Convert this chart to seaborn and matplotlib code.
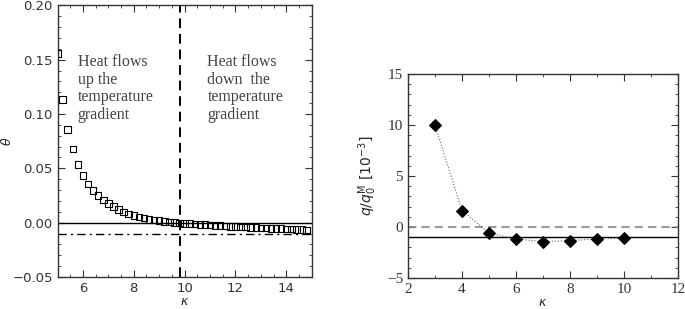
import numpy as np
import pandas as pd
import matplotlib
matplotlib.use("Agg")
import matplotlib.pyplot as plt
import seaborn as sns
from matplotlib.ticker import MultipleLocator

# ---- data: left panel ----
kappa_left = [5.0, 5.2, 5.4, 5.6, 5.8, 6.0, 6.2, 6.4, 6.6, 6.8,
              7.0, 7.2, 7.4, 7.6, 7.8, 8.0, 8.2, 8.4, 8.6, 8.8,
              9.0, 9.2, 9.4, 9.6, 9.8, 10.0, 10.2, 10.4, 10.6, 10.8,
              11.0, 11.2, 11.4, 11.6, 11.8, 12.0, 12.2, 12.4, 12.6, 12.8,
              13.0, 13.2, 13.4, 13.6, 13.8, 14.0, 14.2, 14.4, 14.6, 14.8]
theta = [0.1556, 0.1135, 0.0859, 0.0676, 0.0535, 0.0435, 0.0354, 0.0294, 0.0249, 0.0210,
         0.0177, 0.0147, 0.0123, 0.0099, 0.0081, 0.0066, 0.0054, 0.0042, 0.0030, 0.0024,
         0.0018, 0.0012, 0.0006, 0.0000, -0.0003, -0.0006, -0.0009, -0.0012, -0.0016, -0.0019,
         -0.0022, -0.0025, -0.0028, -0.0031, -0.0034, -0.0037, -0.0039, -0.0042, -0.0044, -0.0046,
         -0.0048, -0.0050, -0.0052, -0.0054, -0.0056, -0.0058, -0.0060, -0.0062, -0.0064, -0.0066]
kappa_crit = 9.83
theta_asym = -0.01
left_text_a = "Heat flows\nup the\ntemperature\ngradient"
left_text_b = "Heat flows\ndown  the\ntemperature\ngradient"

# ---- data: right panel ----
kappa_right = [3, 4, 5, 6, 7, 8, 9, 10]
q_ratio = [10.0, 1.62, -0.58, -1.17, -1.43, -1.33, -1.17, -1.07]
q_asym = -1.0

sns.set_style("ticks")
plt.rcParams['font.family'] = ['DejaVu Sans']

fig = plt.figure(figsize=(6.85, 3.09), dpi=100)
ax1 = fig.add_axes([0.084, 0.1036, 0.371, 0.879])
ax2 = fig.add_axes([0.5956, 0.1003, 0.394, 0.660])

dfl = pd.DataFrame({"kappa": kappa_left, "theta": theta})
sns.scatterplot(data=dfl, x="kappa", y="theta", ax=ax1, marker="s", s=22,
                facecolor="none", edgecolor="black", linewidth=0.8, zorder=3)
ax1.axhline(0.0, color="black", lw=1.0)
ax1.axhline(theta_asym, color="black", lw=1.0, ls=(0, (6, 3, 1.5, 3)))
ax1.axvline(kappa_crit, color="black", lw=1.4, ls=(0, (5, 3)))
ax1.set_xlim(5, 15)
ax1.set_ylim(-0.05, 0.20)
ax1.xaxis.set_major_locator(MultipleLocator(2))
ax1.xaxis.set_minor_locator(MultipleLocator(0.5))
ax1.yaxis.set_major_locator(MultipleLocator(0.05))
ax1.yaxis.set_minor_locator(MultipleLocator(0.01))
ax1.set_yticks([-0.05, 0.0, 0.05, 0.10, 0.15, 0.20])
ax1.set_yticklabels(["\u22120.05", "0.00", "0.05", "0.10", "0.15", "0.20"])
ax1.set_xlabel(r"$\kappa$", fontsize=9, labelpad=0)
ax1.set_ylabel(r"$\theta$", fontsize=9)
ax1.yaxis.set_label_coords(-0.172, 0.5)
ax1.text(5.8, 0.155, left_text_a, fontsize=11.5, family="Liberation Serif",
         va="top", ha="left", color="#444444", linespacing=1.12)
ax1.text(10.9, 0.155, left_text_b, fontsize=11.5, family="Liberation Serif",
         va="top", ha="left", color="#444444", linespacing=1.12)

dfr = pd.DataFrame({"kappa": kappa_right, "q": q_ratio})
ax2.axhline(0.0, color="#888888", lw=1.2, ls=(0, (5, 3)))
ax2.axhline(q_asym, color="black", lw=1.0)
sns.lineplot(data=dfr, x="kappa", y="q", ax=ax2, color="#666666", lw=0.8,
             ls=":", marker="D", markersize=6, markerfacecolor="black",
             markeredgecolor="black", zorder=3)
ax2.set_xlim(2, 12)
ax2.set_ylim(-5, 15)
ax2.xaxis.set_major_locator(MultipleLocator(2))
ax2.xaxis.set_minor_locator(MultipleLocator(1))
ax2.yaxis.set_major_locator(MultipleLocator(5))
ax2.yaxis.set_minor_locator(MultipleLocator(1))
ax2.set_yticks([-5, 0, 5, 10, 15])
ax2.set_yticklabels(["\u22125", "0", "5", "10", "15"])
ax2.set_xlabel(r"$\kappa$", fontsize=9, labelpad=0)
ax2.set_ylabel(r"$q/q_0^{\rm M}\ [10^{-3}]$", fontsize=10, labelpad=6)

for ax, fam, ls in ((ax1, "DejaVu Sans", 9.5), (ax2, "Liberation Serif", 11)):
    for sp in ax.spines.values():
        sp.set_visible(True)
        sp.set_linewidth(1.0)
        sp.set_color("#333333")
    ax.tick_params(which="both", direction="in", top=True, right=True,
                   colors="#333333", labelcolor="#333333")
    ax.tick_params(which="major", length=5, width=0.8, labelsize=ls)
    ax.tick_params(which="minor", length=2.5, width=0.6)
    for lab in ax.get_xticklabels() + ax.get_yticklabels():
        lab.set_family(fam)

fig.savefig("out.png", dpi=100)
